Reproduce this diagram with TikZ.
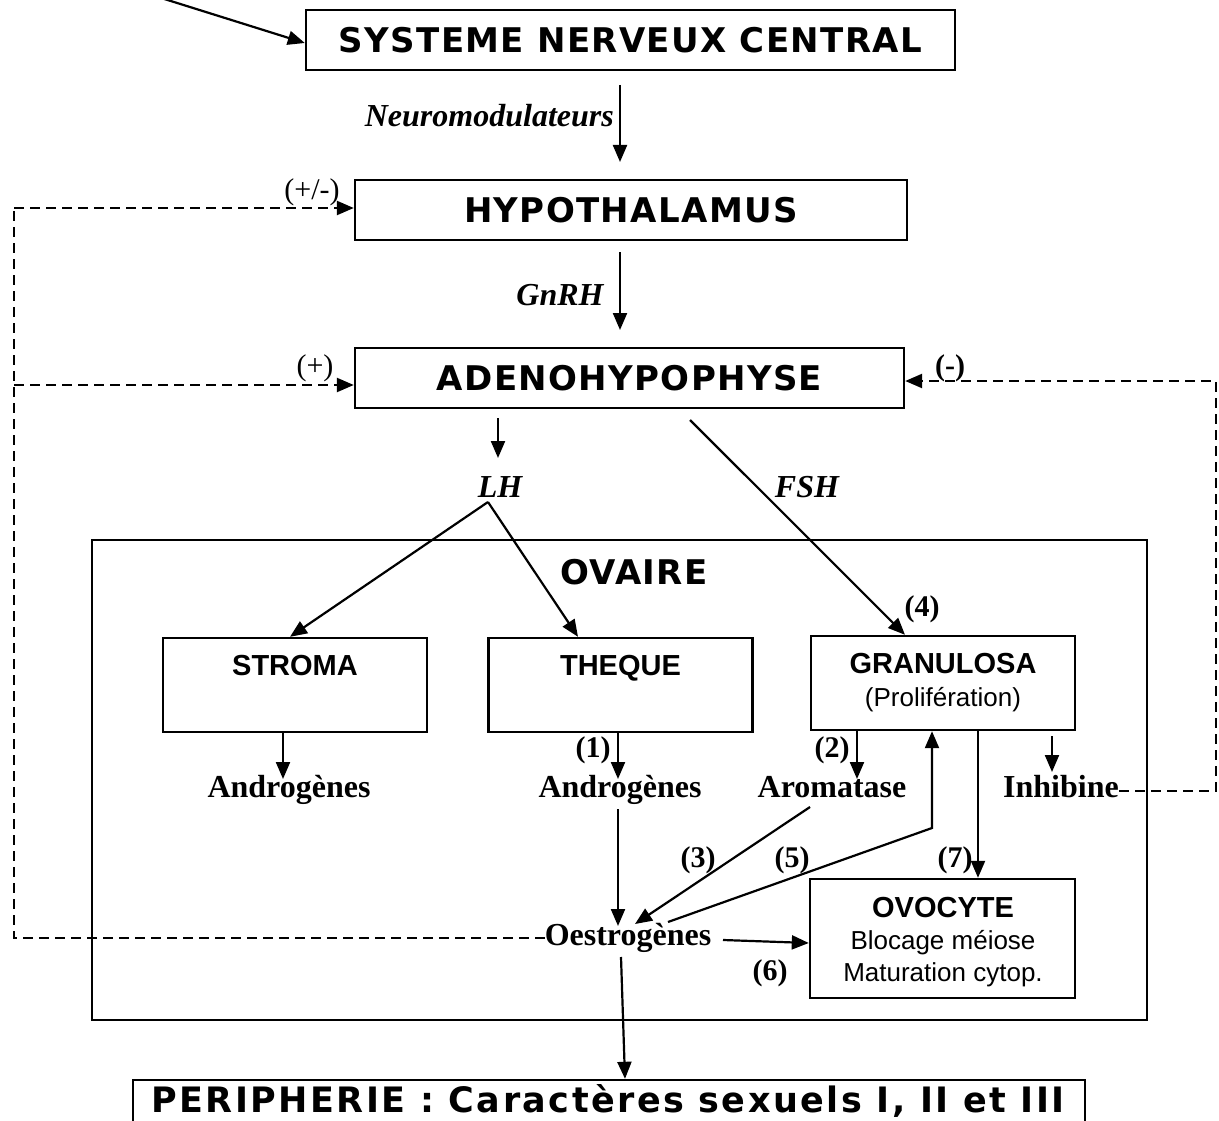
\documentclass[tikz,border=0pt]{standalone}
\usepackage{fontspec}
\setmainfont{Liberation Serif}
\newfontfamily\ttlfont[LetterSpace=4.0]{DejaVu Sans}
\newfontfamily\perifont[LetterSpace=7.0]{DejaVu Sans}
\newfontfamily\arlfont{Liberation Sans}
\usetikzlibrary{arrows.meta,calc}
\tikzset{
  bigbox/.style={draw,line width=2.4pt,inner sep=0pt,font=\fontsize{34}{40}\selectfont\ttlfont\bfseries},
  cellbox/.style={draw,line width=2.4pt,inner sep=0pt,minimum width=264pt,minimum height=94pt},
  celltitle/.style={inner sep=0pt,anchor=base,font=\fontsize{29}{34}\selectfont\arlfont\bfseries},
  celltext/.style={inner sep=0pt,anchor=base,font=\fontsize{26}{31}\selectfont\arlfont},
  lab/.style={inner sep=0pt,anchor=base,font=\fontsize{32}{38}\selectfont\bfseries},
  ilab/.style={inner sep=0pt,anchor=base,font=\fontsize{32}{38}\selectfont\bfseries\itshape},
  num/.style={inner sep=0pt,font=\fontsize{30}{36}\selectfont\bfseries},
  numr/.style={inner sep=0pt,font=\fontsize{30}{36}\selectfont},
  arr/.style={-{Triangle[length=17pt,width=14pt]},line width=2.2pt},
  dsh/.style={dash pattern=on 10pt off 6pt,line width=2.4pt},
  darr/.style={dsh,-{Triangle[length=17pt,width=14pt]}}
}
\begin{document}
\begin{tikzpicture}[x=1pt,y=-1pt]
\useasboundingbox (0,0) rectangle (1219,1121);
\fill[white] (0,0) rectangle (1219,1121);

% main boxes
\node[bigbox,minimum width=649pt,minimum height=60pt] (snc) at (630.5,40) {SYSTEME NERVEUX CENTRAL};
\node[bigbox,minimum width=552pt,minimum height=60pt] (hyp) at (631,210) {HYPOTHALAMUS};
\node[bigbox,minimum width=549pt,minimum height=60pt] (adh) at (629.5,378) {ADENOHYPOPHYSE};
\node[draw,line width=2.4pt,inner sep=0pt,minimum width=1055pt,minimum height=480pt] (ovaire) at (619.5,780) {};
\node[inner sep=0pt,font=\fontsize{34}{40}\selectfont\ttlfont\bfseries] (ovlab) at (634,572) {OVAIRE};
\node[draw,line width=2.4pt,inner sep=0pt,minimum width=952pt,minimum height=60pt] (peri) at (609,1110) {};
\node[inner sep=0pt,anchor=base,font=\fontsize{35}{42}\selectfont\perifont\bfseries] (periT) at (608,1112) {PERIPHERIE : Caractères sexuels I, II et III};

% cell boxes
\node[cellbox] (stroma) at (295,685) {};
\node[celltitle] (stromaT) at (295,675) {STROMA};
\node[cellbox] (theque) at (620.5,685) {};
\node[celltitle] (thequeT) at (620.5,675) {THEQUE};
\node[cellbox] (granu) at (943,683) {};
\node[celltitle] (granuT) at (943,673) {GRANULOSA};
\node[celltext] (granuP) at (943,706) {(Prolifération)};
\node[cellbox,minimum width=265pt,minimum height=119pt] (ovo) at (942.5,938.5) {};
\node[celltitle] (ovoT) at (943,917) {OVOCYTE};
\node[celltext] (ovo1) at (943,949) {Blocage méiose};
\node[celltext] (ovo2) at (943,981) {Maturation cytop.};

% text labels
\node[ilab,anchor=base east] (neuro) at (614,127) {Neuromodulateurs};
\node[ilab] (gnrh) at (560,305) {GnRH};
\node[ilab] (lh) at (500,497) {LH};
\node[ilab] (fsh) at (807,497) {FSH};
\node[lab] (andr1) at (289,797) {Androgènes};
\node[lab] (andr2) at (620,797) {Androgènes};
\node[lab] (arom) at (832,797) {Aromatase};
\node[lab] (inhib) at (1061,797) {Inhibine};
\node[lab] (oestr) at (628,945) {Oestrogènes};

\node[numr] (pm) at (312,192) {(+/-)};
\node[numr] (plus) at (315,368) {(+)};
\node[num] (minus) at (950,368) {(-)};
\node[num] (n1) at (593,750) {(1)};
\node[num] (n2) at (832,750) {(2)};
\node[num] (n3) at (698,860) {(3)};
\node[num] (n4) at (922,609) {(4)};
\node[num] (n5) at (792,860) {(5)};
\node[num] (n6) at (770,973) {(6)};
\node[num] (n7) at (955,860) {(7)};

% free ends
\coordinate (src) at (158,-3);
\coordinate (nA) at (620,85);  \coordinate (nB) at (620,162);
\coordinate (gA) at (620,252); \coordinate (gB) at (620,330);
\coordinate (lA) at (498,418); \coordinate (lB) at (498,458);
\coordinate (apex) at (488,502);
\coordinate (fA) at (690,420);
\coordinate (xL) at (14,0);
\coordinate (xR) at (1216,0);

% connectors
\draw[arr] (src) -- (snc.west |- 0,43);
\draw[arr] (nA) -- (nB);
\draw[arr] (gA) -- (gB);
\draw[arr] (lA) -- (lB);
\draw[arr] (apex) -- (stroma.north -| 290,0);
\draw[arr] (apex) -- (theque.north -| 578,0);
\draw[arr] (fA) -- (granu.north -| 905,0);

\draw[arr] (stroma.south -| 283,0) -- (283,779);
\draw[arr] (theque.south -| 618,0) -- (618,779);
\draw[arr] (granu.south -| 857,0) -- (857,779);
\draw[arr] (1052,736) -- (1052,772);

\draw[arr] (618,809) -- (618,926);
\draw[arr] (810,807) -- (635,924);
\draw[arr] (668,922) -- (932,828) -- (granu.south -| 932,0);
\draw[arr] (granu.south -| 978,0) -- (ovo.north -| 978,0);
\draw[arr] (723,940) -- (ovo.west |- 0,943);
\draw[arr] (621,957) -- (peri.north -| 625,0);

% dashed feedback
\draw[dsh] (oestr.west |- 0,938) -- (xL |- 0,938) -- (xL |- 0,208);
\draw[darr] (xL |- 0,208) -- (hyp.west |- 0,208);
\draw[darr] (xL |- 0,385) -- (adh.west |- 0,385);
\draw[darr] (inhib.east |- 0,791) -- (xR |- 0,791) -- (xR |- 0,381) -- (adh.east |- 0,381);
\end{tikzpicture}
\end{document}
